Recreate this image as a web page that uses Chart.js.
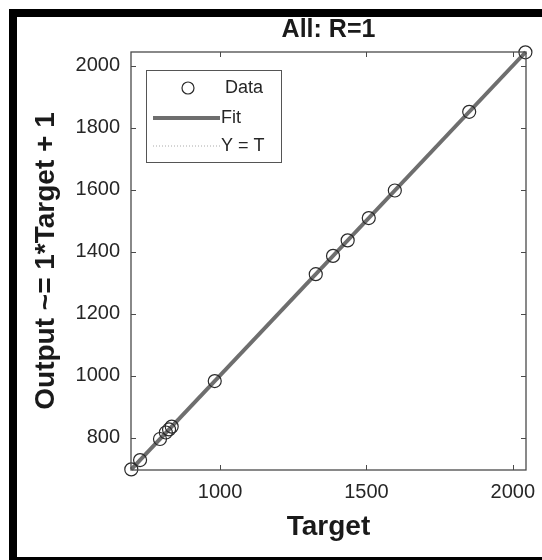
<!DOCTYPE html>
<html><head><meta charset="utf-8">
<script src="https://cdn.jsdelivr.net/npm/chart.js@4/dist/chart.umd.min.js"></script>
<style>
html,body{margin:0;padding:0;background:#fff;}
#wrap{position:relative;width:542px;height:560px;overflow:hidden;background:#fff;}
#frame{position:absolute;left:9px;top:9px;width:600px;height:540px;border-top:8px solid #000;border-left:8px solid #000;border-bottom:8px solid #000;}
canvas{position:absolute;left:0;top:0;}
</style></head>
<body><div id="wrap"><div id="frame"></div><canvas id="c" width="542" height="560"></canvas></div>
<script>
const targets = [697, 727, 795, 815, 826, 835, 982, 1327, 1386, 1436, 1508, 1597, 1851, 2043];
const outputs = [698, 728, 796, 817, 827, 836, 983, 1328, 1387, 1437, 1509, 1598, 1852, 2044];
const fitX = [697, 2044];
const fitY = [698, 2045];
const identityX = [697, 2044];
const identityY = [697, 2044];
const xTickValues = [1000, 1500, 2000];
const yTickValues = [800, 1000, 1200, 1400, 1600, 1800, 2000];
const axisMin = 696, axisMax = 2045;
const seriesLabels = ['Data', 'Fit', 'Y = T'];

const FONT = "'Liberation Sans', Arial, sans-serif";
Chart.defaults.font.family = FONT;

const toPts = (xs, ys) => xs.map((x, i) => ({x: x, y: ys[i]}));

const axesBox = {
  id: 'axesBox',
  afterDatasetsDraw(chart) {
    const {ctx, chartArea: ca, scales} = chart;
    ctx.save();
    ctx.strokeStyle = '#4a4a4a';
    ctx.lineWidth = 1.3;
    ctx.strokeRect(ca.left, ca.top, ca.right - ca.left, ca.bottom - ca.top);
    ctx.lineWidth = 1;
    const tl = 5;
    ctx.beginPath();
    xTickValues.forEach(v => {
      const px = Math.round(scales.x.getPixelForValue(v)) + 0.5;
      ctx.moveTo(px, ca.bottom); ctx.lineTo(px, ca.bottom - tl);
      ctx.moveTo(px, ca.top); ctx.lineTo(px, ca.top + tl);
    });
    yTickValues.forEach(v => {
      const py = Math.round(scales.y.getPixelForValue(v)) + 0.5;
      ctx.moveTo(ca.left, py); ctx.lineTo(ca.left + tl, py);
      ctx.moveTo(ca.right, py); ctx.lineTo(ca.right - tl, py);
    });
    ctx.stroke();
    ctx.restore();
  }
};

const boxLegend = {
  id: 'boxLegend',
  afterDraw(chart) {
    const {ctx, chartArea: ca} = chart;
    const ds = chart.data.datasets;
    const x0 = ca.left + 15, y0 = ca.top + 18, w = 135, h = 92;
    ctx.save();
    ctx.fillStyle = '#fff';
    ctx.fillRect(x0, y0, w, h);
    ctx.strokeStyle = '#555';
    ctx.lineWidth = 1;
    ctx.strokeRect(x0 + 0.5, y0 + 0.5, w, h);
    ctx.font = '18px ' + FONT;
    ctx.fillStyle = '#262626';
    ctx.textBaseline = 'middle';
    ctx.textAlign = 'left';
    // Data
    let ry = y0 + 18;
    ctx.beginPath();
    ctx.arc(x0 + 42, ry, 6, 0, Math.PI * 2);
    ctx.strokeStyle = ds[0].borderColor; ctx.lineWidth = ds[0].borderWidth;
    ctx.stroke();
    ctx.fillText(ds[0].label, x0 + 79, ry);
    // Fit
    ry = y0 + 48;
    ctx.beginPath();
    ctx.moveTo(x0 + 7, ry); ctx.lineTo(x0 + 74, ry);
    ctx.strokeStyle = ds[1].borderColor; ctx.lineWidth = ds[1].borderWidth;
    ctx.stroke();
    ctx.fillText(ds[1].label, x0 + 75, ry);
    // Y = T
    ry = y0 + 76;
    ctx.beginPath();
    ctx.setLineDash(ds[2].borderDash);
    ctx.moveTo(x0 + 7, ry); ctx.lineTo(x0 + 74, ry);
    ctx.strokeStyle = ds[2].borderColor; ctx.lineWidth = ds[2].borderWidth;
    ctx.stroke();
    ctx.setLineDash([]);
    ctx.fillText(ds[2].label, x0 + 75, ry);
    ctx.restore();
  }
};

new Chart(document.getElementById('c'), {
  type: 'scatter',
  data: {
    datasets: [
      {
        label: seriesLabels[0],
        data: toPts(targets, outputs),
        showLine: false,
        pointStyle: 'circle',
        pointRadius: 6.5,
        pointBorderWidth: 1.2,
        borderWidth: 1.2,
        borderColor: '#2a2a2a',
        pointBorderColor: '#2a2a2a',
        pointBackgroundColor: 'rgba(0,0,0,0)',
        backgroundColor: 'rgba(0,0,0,0)',
        clip: false
      },
      {
        label: seriesLabels[1],
        data: toPts(fitX, fitY),
        showLine: true,
        pointRadius: 0,
        borderColor: '#6e6e6e',
        borderWidth: 4,
        clip: false
      },
      {
        label: seriesLabels[2],
        data: toPts(identityX, identityY),
        showLine: true,
        pointRadius: 0,
        borderColor: '#aaaaaa',
        borderWidth: 1,
        borderDash: [1, 2]
      }
    ]
  },
  options: {
    responsive: false,
    animation: false,
    events: [],
    layout: {padding: {left: 20, right: 16, top: 0, bottom: 0}},
    plugins: {
      legend: {display: false},
      tooltip: {enabled: false},
      title: {
        display: true, text: 'All: R=1', fullSize: false,
        color: '#1a1a1a',
        font: {family: FONT, size: 25, weight: 'bold'},
        padding: {top: 15, bottom: 7}
      }
    },
    scales: {
      x: {
        type: 'linear', min: axisMin, max: axisMax,
        grid: {display: false, drawTicks: false},
        border: {display: false},
        afterBuildTicks: s => { s.ticks = xTickValues.map(v => ({value: v})); },
        afterFit: s => { s.height = 90; s.paddingLeft = 0; s.paddingRight = 0; },
        ticks: {color: '#262626', font: {family: FONT, size: 20}, padding: 10, maxRotation: 0, callback: v => String(v)},
        title: {display: true, text: 'Target', color: '#1a1a1a', font: {family: FONT, size: 28, weight: 'bold'}, padding: {top: 0, bottom: 16}}
      },
      y: {
        type: 'linear', min: axisMin, max: axisMax,
        grid: {display: false, drawTicks: false},
        border: {display: false},
        afterBuildTicks: s => { s.ticks = yTickValues.map(v => ({value: v})); },
        afterFit: s => { s.width = 111; s.paddingTop = 0; s.paddingBottom = 0; },
        ticks: {color: '#262626', font: {family: FONT, size: 20}, padding: 11, callback: v => String(v)},
        title: {display: true, text: 'Output ~= 1*Target + 1', color: '#1a1a1a', font: {family: FONT, size: 28, weight: 'bold'}, padding: {top: 9, bottom: 0}}
      }
    }
  },
  plugins: [axesBox, boxLegend]
});
</script>
</body></html>
